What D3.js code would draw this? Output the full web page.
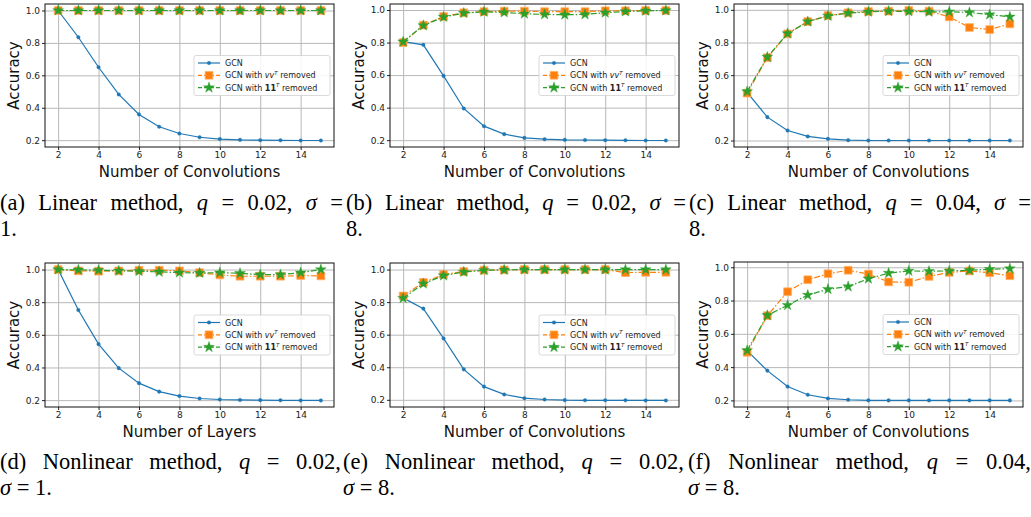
<!DOCTYPE html>
<html>
<head>
<meta charset="utf-8">
<script src="https://cdn.jsdelivr.net/npm/d3@7"></script>
<style>
    body { margin: 0; background: #fff; }
    svg { display: block; font-family: "DejaVu Sans", sans-serif; }
    .cap { font-family: "Liberation Serif", "Times New Roman", serif; font-size: 22.5px; fill: #000; }
</style>
</head>
<body>
<svg id="chart" width="1031" height="517"></svg>
<script>
// x categories and ticks
var convolutions = [2, 3, 4, 5, 6, 7, 8, 9, 10, 11, 12, 13, 14, 15];
var xTicks = [2, 4, 6, 8, 10, 12, 14];
var yTicks = [0.2, 0.4, 0.6, 0.8, 1.0];

// (a) linear, q=0.02, sigma=1
var gcnA  = [1.0, 0.835, 0.65, 0.482, 0.359, 0.283, 0.241, 0.218, 0.207, 0.202, 0.200, 0.199, 0.198, 0.198];
var vvA   = [1.0, 1.0, 1.0, 1.0, 1.0, 1.0, 1.0, 1.0, 1.0, 1.0, 1.0, 1.0, 1.0, 1.0];
var onesA = [1.0, 1.0, 1.0, 1.0, 1.0, 1.0, 1.0, 1.0, 1.0, 1.0, 1.0, 1.0, 1.0, 1.0];
// (b) linear, q=0.02, sigma=8
var gcnB  = [0.806, 0.786, 0.595, 0.395, 0.286, 0.237, 0.214, 0.206, 0.202, 0.201, 0.200, 0.199, 0.198, 0.198];
var vvB   = [0.80, 0.907, 0.96, 0.983, 0.99, 0.993, 0.993, 0.99, 0.99, 0.99, 0.995, 0.995, 0.997, 0.997];
var onesB = [0.805, 0.905, 0.957, 0.981, 0.989, 0.985, 0.977, 0.973, 0.971, 0.973, 0.983, 0.991, 0.995, 0.997];
// (c) linear, q=0.04, sigma=8
var gcnC  = [0.495, 0.343, 0.261, 0.225, 0.21, 0.202, 0.200, 0.200, 0.200, 0.200, 0.200, 0.200, 0.200, 0.200];
var vvC   = [0.49, 0.707, 0.853, 0.928, 0.965, 0.982, 0.99, 0.992, 0.996, 0.992, 0.957, 0.892, 0.879, 0.914];
var onesC = [0.50, 0.711, 0.855, 0.928, 0.963, 0.98, 0.988, 0.992, 0.99, 0.988, 0.988, 0.984, 0.971, 0.957];
// (d) nonlinear, q=0.02, sigma=1
var gcnD  = [1.0, 0.752, 0.543, 0.396, 0.304, 0.252, 0.225, 0.21, 0.204, 0.201, 0.200, 0.199, 0.198, 0.198];
var vvD   = [1.0, 0.992, 0.99, 0.992, 0.996, 0.996, 0.992, 0.981, 0.967, 0.959, 0.959, 0.959, 0.963, 0.961];
var onesD = [1.0, 0.998, 0.996, 0.992, 0.99, 0.986, 0.981, 0.979, 0.981, 0.977, 0.969, 0.969, 0.981, 1.0];
// (e) nonlinear, q=0.02, sigma=8
var gcnE  = [0.826, 0.76, 0.577, 0.387, 0.281, 0.233, 0.21, 0.202, 0.198, 0.197, 0.197, 0.197, 0.196, 0.196];
var vvE   = [0.838, 0.921, 0.969, 0.988, 0.996, 0.998, 1.0, 1.0, 1.0, 1.0, 1.0, 0.981, 0.983, 0.983];
var onesE = [0.824, 0.913, 0.963, 0.985, 0.996, 0.998, 1.0, 1.0, 1.0, 1.0, 1.0, 1.0, 1.0, 1.0];
// (f) nonlinear, q=0.04, sigma=8
var gcnF  = [0.499, 0.379, 0.283, 0.234, 0.212, 0.204, 0.200, 0.200, 0.200, 0.200, 0.200, 0.200, 0.200, 0.200];
var vvF   = [0.489, 0.709, 0.853, 0.925, 0.961, 0.982, 0.959, 0.912, 0.91, 0.945, 0.969, 0.978, 0.967, 0.949];
var onesF = [0.50, 0.711, 0.772, 0.833, 0.868, 0.884, 0.931, 0.965, 0.978, 0.976, 0.978, 0.982, 0.988, 0.992];

var xLabels = ["Number of Convolutions", "Number of Convolutions", "Number of Convolutions",
               "Number of Layers", "Number of Convolutions", "Number of Convolutions"];
var yLabel = "Accuracy";

// caption pieces
var capLetters = ["a", "b", "c", "d", "e", "f"];
var capMethods = ["Linear", "Linear", "Linear", "Nonlinear", "Nonlinear", "Nonlinear"];
var capQ = ["0.02", "0.02", "0.04", "0.02", "0.02", "0.04"];
var capSigma = ["1", "8", "8", "1", "8", "8"];

var colors = ["#1f77b4", "#ff7f0e", "#2ca02c"];

var panels = [
    { gcn: gcnA, vv: vvA, ones: onesA, left: 45,  right: 334,  top: 4,   bottom: 147 },
    { gcn: gcnB, vv: vvB, ones: onesB, left: 390, right: 679,  top: 4,   bottom: 147 },
    { gcn: gcnC, vv: vvC, ones: onesC, left: 734, right: 1023, top: 4,   bottom: 147 },
    { gcn: gcnD, vv: vvD, ones: onesD, left: 45,  right: 334,  top: 263, bottom: 407 },
    { gcn: gcnE, vv: vvE, ones: onesE, left: 390, right: 679,  top: 263, bottom: 407 },
    { gcn: gcnF, vv: vvF, ones: onesF, left: 734, right: 1023, top: 262, bottom: 407 }
];

var svg = d3.select("#chart");

function drawPanel(p, i) {
    var g = svg.append("g");
    var all = p.gcn.concat(p.vv, p.ones);
    var lo = d3.min(all), hi = d3.max(all), r = hi - lo;

    var x = d3.scaleLinear().domain([1.35, 15.65]).range([p.left, p.right]);
    var y = d3.scaleLinear().domain([lo - 0.05 * r, hi + 0.05 * r]).range([p.bottom, p.top]);

    // grid
    g.append("g")
        .attr("transform", "translate(0," + p.bottom + ")")
        .call(d3.axisBottom(x).tickValues(xTicks).tickSize(-(p.bottom - p.top)).tickFormat(""))
        .call(function(s) { s.select(".domain").remove(); })
        .selectAll("line").attr("stroke", "#b8b8b8").attr("stroke-width", 1);
    g.append("g")
        .attr("transform", "translate(" + p.left + ",0)")
        .call(d3.axisLeft(y).tickValues(yTicks).tickSize(-(p.right - p.left)).tickFormat(""))
        .call(function(s) { s.select(".domain").remove(); })
        .selectAll("line").attr("stroke", "#b8b8b8").attr("stroke-width", 1);

    // axes with labels
    var xa = g.append("g")
        .attr("transform", "translate(0," + p.bottom + ")")
        .call(d3.axisBottom(x).tickValues(xTicks).tickSize(3).tickPadding(2).tickFormat(d3.format("d")));
    var ya = g.append("g")
        .attr("transform", "translate(" + p.left + ",0)")
        .call(d3.axisLeft(y).tickValues(yTicks).tickSize(3).tickPadding(2).tickFormat(d3.format(".1f")));
    [xa, ya].forEach(function(a) {
        a.select(".domain").remove();
        a.selectAll("text").attr("font-size", 9).attr("fill", "#222").attr("font-family", "DejaVu Sans");
        a.selectAll("line").attr("stroke", "#222");
    });

    // lines
    var line = d3.line().x(function(d, k) { return x(convolutions[k]); }).y(function(d) { return y(d); });
    var series = [
        { vals: p.gcn,  dash: null,        sym: d3.symbolCircle, size: 10 },
        { vals: p.vv,   dash: "6,2,1.5,2", sym: d3.symbolSquare, size: 60 },
        { vals: p.ones, dash: "6,2,1.5,2", sym: d3.symbolStar,   size: 36 }
    ];
    series.forEach(function(s, k) {
        g.append("path").datum(s.vals)
            .attr("d", line)
            .attr("fill", "none")
            .attr("stroke", colors[k])
            .attr("stroke-width", 1.2)
            .attr("stroke-dasharray", s.dash);
        g.selectAll(null).data(s.vals).enter().append("path")
            .attr("d", d3.symbol().type(s.sym).size(s.size))
            .attr("transform", function(d, j) { return "translate(" + x(convolutions[j]) + "," + y(d) + ")"; })
            .attr("fill", colors[k])
            .attr("stroke", k === 1 ? "#ffb266" : colors[k])
            .attr("stroke-width", k === 1 ? 0.8 : 0.4);
    });

    // frame
    g.append("rect")
        .attr("x", p.left).attr("y", p.top)
        .attr("width", p.right - p.left).attr("height", p.bottom - p.top)
        .attr("fill", "none").attr("stroke", "#111").attr("stroke-width", 1);

    // axis titles
    g.append("text")
        .attr("x", (p.left + p.right) / 2).attr("y", p.bottom + 30)
        .attr("text-anchor", "middle").attr("font-size", 15).attr("fill", "#111")
        .text(xLabels[i]);
    g.append("text")
        .attr("transform", "translate(" + (p.left - 26) + "," + ((p.top + p.bottom) / 2) + ") rotate(-90)")
        .attr("text-anchor", "middle").attr("font-size", 15).attr("fill", "#111")
        .text(yLabel);

    // legend, centre right
    var lw = 136, lh = 40;
    var lx = p.right - 4 - lw, ly = (p.top + p.bottom) / 2 - lh / 2;
    var lg = g.append("g").attr("transform", "translate(" + lx + "," + ly + ")");
    lg.append("rect").attr("width", lw).attr("height", lh).attr("rx", 2)
        .attr("fill", "#fff").attr("fill-opacity", 0.85)
        .attr("stroke", "#d0d0d0").attr("stroke-width", 0.8);
    series.forEach(function(s, k) {
        var ry = 7.5 + k * 12.3;
        lg.append("line").attr("x1", 4).attr("x2", 26).attr("y1", ry).attr("y2", ry)
            .attr("stroke", colors[k]).attr("stroke-width", 1.2)
            .attr("stroke-dasharray", s.dash ? "4,2" : null);
        lg.append("path")
            .attr("d", d3.symbol().type(s.sym).size(s.size))
            .attr("transform", "translate(15," + ry + ")")
            .attr("fill", colors[k])
            .attr("stroke", k === 1 ? "#ffb266" : colors[k])
            .attr("stroke-width", k === 1 ? 0.8 : 0.4);
        var t = lg.append("text").attr("x", 31).attr("y", ry + 3)
            .attr("font-size", 8).attr("fill", "#222");
        if (k === 0) {
            t.text("GCN");
        } else {
            t.append("tspan").text("GCN with ");
            var m = t.append("tspan").text(k === 1 ? "vv" : "11");
            if (k === 1) m.attr("font-style", "italic"); else m.attr("font-weight", "bold");
            t.append("tspan").text("T").attr("font-style", "italic").attr("font-size", 5.5).attr("dy", -3.5);
            t.append("tspan").text(" removed").attr("dy", 3.5);
        }
    });
}

panels.forEach(drawPanel);

// captions, justified across each column
var colStart = [0, 346, 689, 0, 343, 688];
var colEnd   = [343, 686, 1031, 341, 684, 1031];

function justify(t, width) {
    var words = t.text().split(" ").length - 1;
    var len = t.node().getComputedTextLength();
    if (words > 0) t.attr("word-spacing", ((width - len) / words) + "px");
}

capLetters.forEach(function(c, i) {
    var top = i < 3;
    var y1 = top ? 210 : 469, y2 = top ? 235.5 : 494.5;
    var t = svg.append("text").attr("class", "cap").attr("x", colStart[i]).attr("y", y1);
    t.append("tspan").text("(" + c + ") " + capMethods[i] + " method, ");
    t.append("tspan").attr("font-style", "italic").text("q");
    if (top) {
        t.append("tspan").text(" = " + capQ[i] + ", ");
        t.append("tspan").attr("font-style", "italic").text("σ");
        t.append("tspan").text(" =");
        justify(t, colEnd[i] - colStart[i]);
        svg.append("text").attr("class", "cap").attr("x", colStart[i]).attr("y", y2)
            .text(capSigma[i] + ".");
    } else {
        t.append("tspan").text(" = " + capQ[i] + ",");
        justify(t, colEnd[i] - colStart[i]);
        var t2 = svg.append("text").attr("class", "cap").attr("x", colStart[i]).attr("y", y2);
        t2.append("tspan").attr("font-style", "italic").text("σ");
        t2.append("tspan").text(" = " + capSigma[i] + ".");
    }
});
</script>
</body>
</html>
